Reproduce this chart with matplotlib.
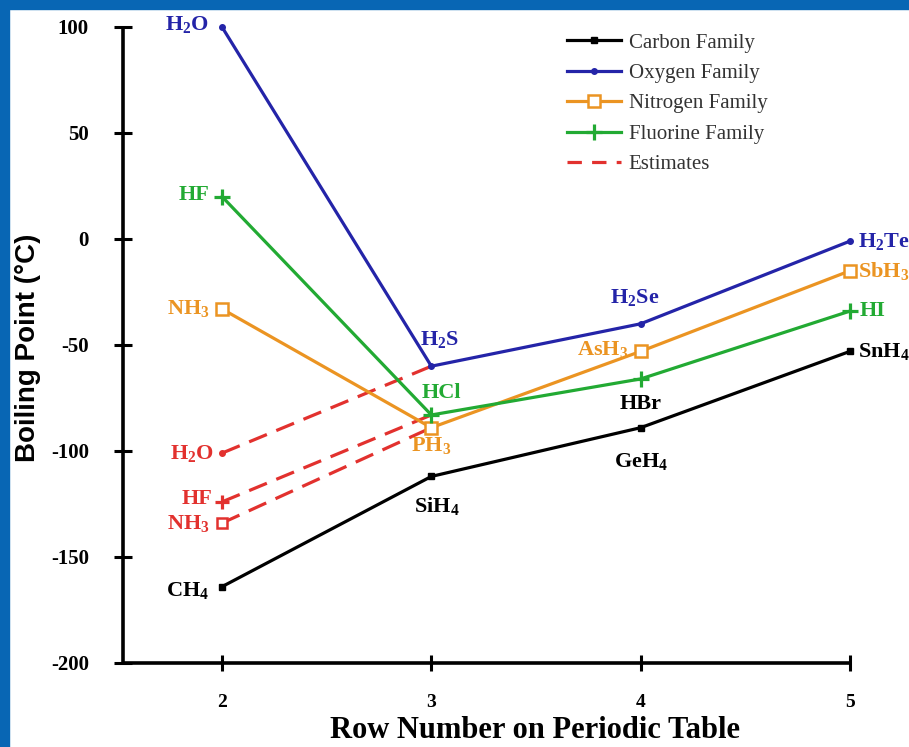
import matplotlib
matplotlib.use("Agg")
import matplotlib.pyplot as plt
from matplotlib.patches import Rectangle

# rows on the periodic table
rows = [2, 3, 4, 5]

# boiling points in deg C
carbon = [-164, -112, -89, -53]
oxygen = [100, -60, -40, -1]
nitrogen = [-33, -89, -53, -15]
fluorine = [20, -83, -66, -34]

# estimated values for row 2 (dashed lines to row 3)
est_rows = [2, 3]
est_water = [-101, -60]
est_hf = [-124, -83]
est_nh3 = [-134, -89]

carbon_names = [r"CH$_4$", r"SiH$_4$", r"GeH$_4$", r"SnH$_4$"]
oxygen_names = [r"H$_2$O", r"H$_2$S", r"H$_2$Se", r"H$_2$Te"]
nitrogen_names = [r"NH$_3$", r"PH$_3$", r"AsH$_3$", r"SbH$_3$"]
fluorine_names = ["HF", "HCl", "HBr", "HI"]
est_names = [r"H$_2$O", "HF", r"NH$_3$"]

yticks = [-200, -150, -100, -50, 0, 50, 100]

BLACK = "#000000"
BLUE = "#2424A8"
ORANGE = "#EB9422"
GREEN = "#22AA33"
RED = "#E2312E"

plt.rcParams["font.family"] = ["Liberation Serif", "DejaVu Serif"]
plt.rcParams["mathtext.fontset"] = "custom"
plt.rcParams["mathtext.rm"] = "Liberation Serif:bold"
plt.rcParams["mathtext.it"] = "Liberation Serif:bold"
plt.rcParams["mathtext.bf"] = "Liberation Serif:bold"

fig = plt.figure(figsize=(9.09, 7.47), dpi=100)
ax = fig.add_axes([123 / 909, 1 - 663 / 747, (850 - 123) / 909, (663 - 27) / 747])

# blue frame on left and top
fig.patches.append(Rectangle((0, 0), 9 / 909, 1, transform=fig.transFigure,
                             color="#0866B4", zorder=10))
fig.patches.append(Rectangle((0, 1 - 9 / 747), 1, 9 / 747, transform=fig.transFigure,
                             color="#0866B4", zorder=10))

lw = 2.3
# estimates first so the family lines sit on top
dash = (0, (6, 3.2))
ax.plot(est_rows, est_water, color=RED, lw=lw, ls=dash, clip_on=False)
ax.plot(est_rows, est_hf, color=RED, lw=lw, ls=dash, clip_on=False)
ax.plot(est_rows, est_nh3, color=RED, lw=lw, ls=dash, clip_on=False)
ax.plot(est_rows[0], est_water[0], "o", color=RED, ms=4, clip_on=False)
ax.plot(est_rows[0], est_hf[0], "+", color=RED, ms=10, mew=2.3, clip_on=False)
ax.plot(est_rows[0], est_nh3[0], "s", color=RED, mfc="white", mec=RED, ms=7,
        mew=1.8, clip_on=False)

ax.plot(rows, carbon, "-s", color=BLACK, lw=lw, ms=5, clip_on=False,
        label="Carbon Family", zorder=4)
ax.plot(rows, oxygen, "-o", color=BLUE, lw=lw, ms=4, clip_on=False,
        label="Oxygen Family", zorder=4)
ax.plot(rows, nitrogen, "-s", color=ORANGE, lw=lw, ms=8, mfc="white", mec=ORANGE,
        mew=1.8, clip_on=False, label="Nitrogen Family", zorder=4)
ax.plot(rows, fluorine, "-+", color=GREEN, lw=lw, ms=11, mew=2.3, clip_on=False,
        label="Fluorine Family", zorder=4)
ax.plot([], [], color=RED, lw=lw, ls=(0, (4.5, 3.2)), label="Estimates")

leg = ax.legend(loc="upper left", bbox_to_anchor=(0.585, 1.02), frameon=False,
                fontsize=15, handlelength=2.6, handletextpad=0.35,
                labelspacing=0.52, numpoints=1)
for t in leg.get_texts():
    t.set_color("#333333")

# compound labels, offsets in points
lab = dict(fontsize=16, fontweight="bold", clip_on=False,
           annotation_clip=False)


def put(name, x, y, color, dx, dy, ha="center"):
    ax.annotate(name, (x, y), xytext=(dx, dy), textcoords="offset points",
                ha=ha, va="center", color=color, **lab)


put(oxygen_names[0], rows[0], oxygen[0], BLUE, -9, 2, "right")
put(fluorine_names[0], rows[0], fluorine[0], GREEN, -9, 1, "right")
put(nitrogen_names[0], rows[0], nitrogen[0], ORANGE, -9, 0, "right")
put(est_names[0], est_rows[0], est_water[0], RED, -6, 0, "right")
put(est_names[1], est_rows[0], est_hf[0], RED, -7, 2, "right")
put(est_names[2], est_rows[0], est_nh3[0], RED, -9, 0, "right")
put(carbon_names[0], rows[0], carbon[0], BLACK, -9, -3, "right")

put(oxygen_names[1], rows[1], oxygen[1], BLUE, 6, 19)
put(fluorine_names[1], rows[1], fluorine[1], GREEN, 7, 16)
put(nitrogen_names[1], rows[1], nitrogen[1], ORANGE, 0, -13)
put(carbon_names[1], rows[1], carbon[1], BLACK, 4, -21)

put(oxygen_names[2], rows[2], oxygen[2], BLUE, -4, 19)
put(nitrogen_names[2], rows[2], nitrogen[2], ORANGE, -9, 1, "right")
put(fluorine_names[2], rows[2], fluorine[2], BLACK, 0, -18)
put(carbon_names[2], rows[2], carbon[2], BLACK, 0, -24)

put(oxygen_names[3], rows[3], oxygen[3], BLUE, 6, 0, "left")
put(nitrogen_names[3], rows[3], nitrogen[3], ORANGE, 6, 0, "left")
put(fluorine_names[3], rows[3], fluorine[3], GREEN, 7, 0, "left")
put(carbon_names[3], rows[3], carbon[3], BLACK, 6, 0, "left")

ax.set_xlim(1.527, 5.0)
ax.set_ylim(-200, 100)
ax.set_xticks(rows)
ax.set_yticks(yticks)
ax.set_xticklabels([str(r) for r in rows], fontweight="bold", fontsize=14)
ax.set_yticklabels([str(v) for v in yticks], fontweight="bold", fontsize=15)
ax.tick_params(axis="y", direction="inout", length=13, width=2.2, pad=18)
ax.tick_params(axis="x", direction="inout", length=12, width=2.2, pad=16)

for s in ["top", "right"]:
    ax.spines[s].set_visible(False)
for s in ["left", "bottom"]:
    ax.spines[s].set_linewidth(2.6)
    ax.spines[s].set_capstyle("butt")

fig.text(535 / 909, 1 - 731 / 747, "Row Number on Periodic Table", ha="center",
         va="center", fontsize=22, fontweight="bold")
fig.text(28 / 909, 1 - 348 / 747, "Boiling Point (°C)", rotation=90, ha="center",
         va="center", fontsize=20, fontweight="bold",
         family=["Liberation Sans", "DejaVu Sans"])

fig.savefig("out.png", dpi=100)
